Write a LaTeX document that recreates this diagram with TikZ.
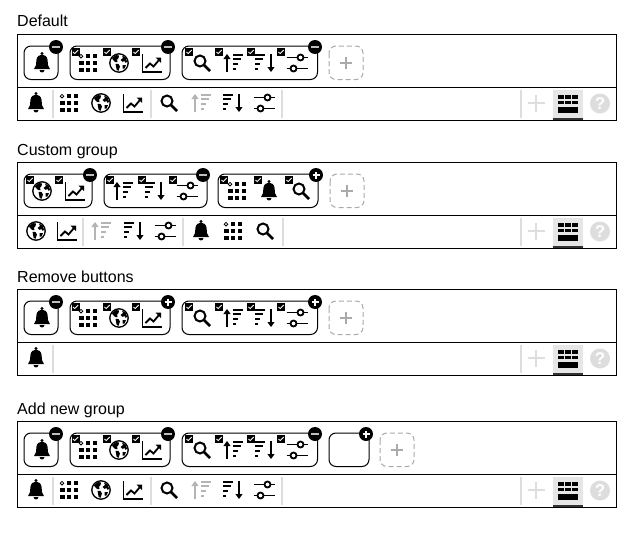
\documentclass[tikz,border=0pt]{standalone}
\usepackage{fontspec}
\setmainfont{Liberation Sans}
\definecolor{sepgray}{HTML}{DDDDDD}
\definecolor{addgray}{HTML}{AAAAAA}
\definecolor{disgray}{HTML}{B4B4B4}
\definecolor{hlgray}{HTML}{E6E6E6}
\definecolor{hldark}{HTML}{333333}
\tikzset{
  panelbox/.style={draw=black,line width=1pt},
  groupbox/.style={draw=black,line width=1pt,rounded corners=7pt},
  addbox/.style={draw=addgray,line width=1pt,rounded corners=7pt,dash pattern=on 5pt off 3pt},
  title/.style={anchor=base west,inner sep=0pt,font=\fontsize{16}{18}\selectfont},
  sepline/.style={draw=sepgray,line width=2pt},
}
% ---- icons, centred on (0,0), in pixels
\newcommand\icbell{%
  \fill (0,-9.5) circle [radius=1.6];
  \fill (-8,6) .. controls (-5.5,3.5) and (-6,1) .. (-5.6,-3)
     .. controls (-5.2,-6.5) and (-2.5,-8.5) .. (0,-8.5)
     .. controls (2.5,-8.5) and (5.2,-6.5) .. (5.6,-3)
     .. controls (6,1) and (5.5,3.5) .. (8,6) -- cycle;
  \fill (-2.5,7.2) .. controls (-2,10.2) and (2,10.2) .. (2.5,7.2) -- cycle;}
\newcommand\icgrid{%
  \foreach \gx in {-6.8,0,6.8}{\foreach \gy in {-6.8,0,6.8}{%
    \fill (\gx-2.3,\gy-2) rectangle (\gx+2.3,\gy+2);}}
  \fill[white] (-9.8,-9.8) rectangle (-4,-4);
  \draw[line width=0.8pt] (-7,-6.8) circle [radius=1.8];}
\newcommand\icglobe{%
  \draw[line width=1.3pt,fill=white] (0,0) circle [radius=9.2];
  \fill (-7,-5) -- (-3,-8) -- (0,-7.5) -- (-0.5,-5) -- (-2,-3.5) -- (-1.5,-1) -- (-3.5,-0.8) -- (-6,-3) -- cycle;
  \fill (-3.5,0.8) -- (-0.5,1) -- (1,3.5) -- (-0.5,7.8) -- (-2.3,7) -- (-3,3.5) -- cycle;
  \fill (3,-7.5) -- (6.5,-5.5) -- (8,-1.5) -- (6.8,0) -- (5.5,-2) -- (3.5,-1.2) -- (1.5,-3) -- (4,-5) -- cycle;
  \fill (3.5,2) -- (7,2) -- (5.5,5.5) -- (3.5,5.5) -- cycle;}
\newcommand\icchart{%
  \draw[line width=1.8pt] (-9.5,-9) -- (-9.5,9) -- (9.5,9);
  \draw[line width=1.8pt] (-6.5,5) -- (-2,0.5) -- (1.5,3.5) -- (7,-3);
  \fill (9,-5.5) -- (9,0) -- (3.5,-5.5) -- cycle;}
\newcommand\icsearch{%
  \draw[line width=2pt] (-2,-2) circle [radius=5.5];
  \draw[line width=2.6pt] (2,2) -- (8,8);}
\newcommand\icasc{%
  \draw[line width=2pt] (-6,9) -- (-6,-5);
  \fill (-6,-9) -- (-2.4,-4) -- (-9.6,-4) -- cycle;
  \draw[line width=2pt] (0,-8) -- (10,-8);
  \draw[line width=2pt] (0,-3.6) -- (8,-3.6);
  \draw[line width=2pt] (0,1) -- (5,1);
  \draw[line width=2pt] (0,5.6) -- (2.5,5.6);}
\newcommand\icdesc{%
  \draw[line width=2pt] (6,-9) -- (6,5);
  \fill (6,9) -- (2.4,4) -- (9.6,4) -- cycle;
  \draw[line width=2pt] (-10,-8) -- (0,-8);
  \draw[line width=2pt] (-10,-3.6) -- (-2,-3.6);
  \draw[line width=2pt] (-10,1) -- (-5,1);
  \draw[line width=2pt] (-10,5.6) -- (-7.5,5.6);}
\newcommand\icsliders{%
  \draw[line width=1.6pt] (-10.5,-5.5) -- (10.5,-5.5);
  \draw[line width=1.6pt] (-10.5,5.5) -- (10.5,5.5);
  \draw[line width=1.8pt,fill=white] (3.5,-5.5) circle [radius=3];
  \draw[line width=1.8pt,fill=white] (-3.5,5.5) circle [radius=3];}
\newcommand\Ic[4][black]{\begin{scope}[shift={(#3,#4)},color=#1]\csname ic#2\endcsname\end{scope}}
\newcommand\Grp[2]{\draw[groupbox] (#1,46) rectangle (#2,79.5);}
\newcommand\AddBox[1]{%
  \draw[addbox] (#1,46) rectangle (#1+34,79.5);
  \draw[draw=addgray,line width=2pt] (#1+17,56.5) -- (#1+17,69) (#1+10.7,62.8) -- (#1+23.3,62.8);}
\newcommand\Chk[1]{%
  \fill[black] (#1-4,48) rectangle (#1+4,56);
  \draw[white,line width=0.8pt] (#1-2.5,52) -- (#1-0.8,53.6) -- (#1+2.7,50);}
\newcommand\BdgMinus[1]{%
  \fill[black] (#1,47) circle [radius=7];
  \draw[white!75!black,line width=2pt] (#1-4,47) -- (#1+4,47);}
\newcommand\BdgPlus[1]{%
  \fill[black] (#1,47) circle [radius=7];
  \draw[white,line width=1.5pt] (#1-3.5,47) -- (#1+3.5,47) (#1,43.5) -- (#1,50.5);}
\newcommand\Sep[1]{\draw[sepline] (#1,90) -- (#1,118);}
\newcommand\Frame[2]{% node name, title
  \node[title] (#1) at (17,27) {#2};
  \draw[panelbox] (17.5,34.5) rectangle (616.5,120.5);
  \draw[panelbox] (17.5,87.5) -- (616.5,87.5);
  \draw[sepline] (521,90) -- (521,118);
  \draw[draw=sepgray,line width=1.5pt] (527.5,103) -- (545,103) (536,94.5) -- (536,112);
  \fill[hlgray] (553,90) rectangle (583,118);
  \fill[hldark] (553,118) rectangle (583,120);
  \begin{scope}[shift={(568,0)}]
    \foreach \tx in {-10,-3,4}{%
      \fill[black] (\tx,95) rectangle (\tx+6,98.5);
      \fill[black] (\tx,100.5) rectangle (\tx+6,104);}
    \fill[black] (-10,107) rectangle (10,113);
  \end{scope}
  \fill[sepgray] (600,103.5) circle [radius=10];
  \node[inner sep=0pt,text=white,font=\fontsize{17}{17}\selectfont\bfseries] (#1q) at (600,103.5) {?};}
\newcommand\DefaultGroups{%
  \Grp{24}{58}\Ic{bell}{42}{63}
  \Grp{70}{170}\Ic{grid}{88}{63}\Ic{globe}{119}{63}\Ic{chart}{152}{63}
  \Chk{75.5}\Chk{107}\Chk{136}
  \Grp{182}{317.5}\Ic{search}{202}{63}\Ic{asc}{233}{63}\Ic{desc}{265}{63}\Ic{sliders}{297}{63}
  \Chk{189}\Chk{219}\Chk{251}\Chk{281}}
\newcommand\DefaultBar{%
  \Ic{bell}{36}{103}\Sep{53}
  \Ic{grid}{69}{103}\Ic{globe}{101}{103}\Ic{chart}{133}{103}\Sep{151}
  \Ic{search}{169}{103}\Ic[disgray]{asc}{201}{103}\Ic{desc}{233}{103}\Ic{sliders}{264}{103}\Sep{282}}
\begin{document}
\begin{tikzpicture}[x=1pt,y=-1pt]
\useasboundingbox (0,0) rectangle (638,546);
\fill[white] (0,0) rectangle (638,546);
% Default
\begin{scope}
  \Frame{t1}{Default}
  \DefaultGroups
  \BdgMinus{56}\BdgMinus{168}\BdgMinus{315}
  \AddBox{329}
  \DefaultBar
\end{scope}
% Custom group
\begin{scope}[shift={(0,128)}]
  \Frame{t2}{Custom group}
  \Grp{24}{92}\Ic{globe}{42}{63}\Ic{chart}{75}{63}\Chk{30}\Chk{59}
  \Grp{104}{207}\Ic{asc}{123}{63}\Ic{desc}{155}{63}\Ic{sliders}{187}{63}\Chk{110}\Chk{142}\Chk{173}
  \Grp{218}{318}\Ic{grid}{237}{63}\Ic{bell}{269}{63}\Ic{search}{301}{63}\Chk{224}\Chk{258}\Chk{289}
  \BdgMinus{90}\BdgMinus{203}\BdgPlus{316}
  \AddBox{330}
  \Ic{globe}{36}{103}\Ic{chart}{67}{103}\Sep{83}
  \Ic[disgray]{asc}{101}{103}\Ic{desc}{134}{103}\Ic{sliders}{165}{103}\Sep{183}
  \Ic{bell}{201}{103}\Ic{grid}{233}{103}\Ic{search}{265}{103}\Sep{283}
\end{scope}
% Remove buttons
\begin{scope}[shift={(0,255)}]
  \Frame{t3}{Remove buttons}
  \DefaultGroups
  \BdgMinus{56}\BdgPlus{168}\BdgPlus{315}
  \AddBox{329}
  \Ic{bell}{36}{103}\Sep{53}
\end{scope}
% Add new group
\begin{scope}[shift={(0,387)}]
  \Frame{t4}{Add new group}
  \DefaultGroups
  \BdgMinus{56}\BdgMinus{168}\BdgMinus{315}
  \Grp{329}{369}\BdgPlus{366}
  \AddBox{380}
  \DefaultBar
\end{scope}
\end{tikzpicture}
\end{document}
